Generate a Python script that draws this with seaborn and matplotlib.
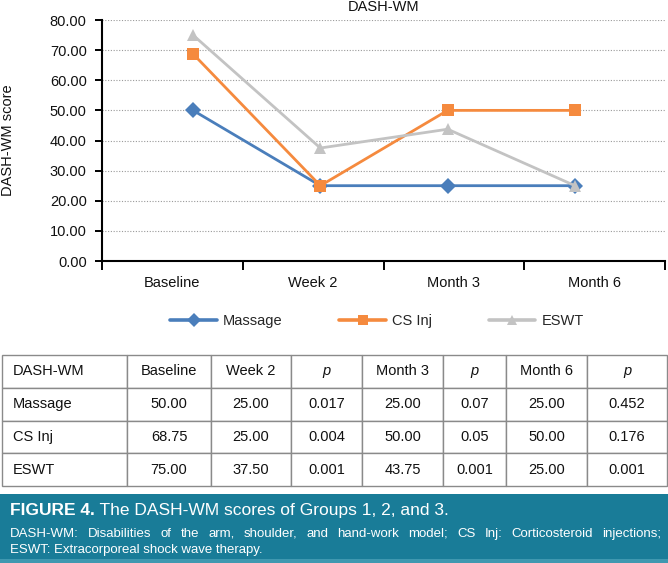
import numpy as np
import pandas as pd
import matplotlib
matplotlib.use("Agg")
import matplotlib.pyplot as plt
import seaborn as sns
from matplotlib.patches import Rectangle

# ---------------- data ----------------
time_points = ["Baseline", "Week 2", "Month 3", "Month 6"]
groups = ["Massage", "CS Inj", "ESWT"]
massage = [50.00, 25.00, 25.00, 25.00]
cs_inj = [68.75, 25.00, 50.00, 50.00]
eswt = [75.00, 37.50, 43.75, 25.00]
p_week2 = ["0.017", "0.004", "0.001"]
p_month3 = ["0.07", "0.05", "0.001"]
p_month6 = ["0.452", "0.176", "0.001"]
table_header = ["DASH-WM", "Baseline", "Week 2", "p", "Month 3", "p", "Month 6", "p"]
y_ticks = [0, 10, 20, 30, 40, 50, 60, 70, 80]
chart_title = "DASH-WM"
y_label = "DASH-WM score"
caption_bold = "FIGURE 4."
caption_title = " The DASH-WM scores of Groups 1, 2, and 3."
caption_line2 = ("DASH-WM: Disabilities of the arm, shoulder, and hand-work model; "
                 "CS Inj: Corticosteroid injections;")
caption_line3 = "ESWT: Extracorporeal shock wave therapy."

colors = {"Massage": "#4a7ebb", "CS Inj": "#f58a3e", "ESWT": "#c3c3c3"}
markers = {"Massage": "D", "CS Inj": "s", "ESWT": "^"}

series = {"Massage": massage, "CS Inj": cs_inj, "ESWT": eswt}
df = pd.DataFrame([(t, g, v) for g in groups for t, v in zip(time_points, series[g])],
                  columns=["Time", "Group", "Score"])

# ---------------- style ----------------
sns.set_theme(style="white")
plt.rcParams["font.family"] = ["Liberation Sans", "DejaVu Sans"]

W, H = 668, 563
fig = plt.figure(figsize=(W / 100, H / 100), dpi=100)

def fx(px):
    return px / W

def fy(py):
    return 1 - py / H

# ---------------- chart ----------------
ax = fig.add_axes([fx(102), fy(261), fx(665) - fx(102), fy(20) - fy(261)])
sns.lineplot(data=df, x="Time", y="Score", hue="Group", style="Group",
             palette=colors, markers=markers, dashes=False, sort=False,
             linewidth=2.0, markersize=8, markeredgewidth=0, ax=ax)

xmin, xmax = -0.715, 3.707
ax.set_xlim(xmin, xmax)
ax.set_ylim(0, 80)
ax.set_yticks(y_ticks)
ax.set_yticklabels([f"{v:.2f}" for v in y_ticks], fontsize=10.5, color="#111111")
ax.yaxis.grid(True, color="#9a9a9a", linestyle=(0, (1, 1.5)), linewidth=0.8)
ax.set_axisbelow(True)

bounds = np.linspace(xmin, xmax, len(time_points) + 1)
centers = (bounds[:-1] + bounds[1:]) / 2
ax.set_xticks(bounds)
ax.set_xticklabels([""] * len(bounds))
ax.set_xticks(centers, minor=True)
ax.set_xticklabels(time_points, minor=True, fontsize=10.5, color="#111111")
ax.tick_params(axis="x", which="major", direction="out", length=6.5, width=1.4,
               color="black", bottom=True)
ax.tick_params(axis="x", which="minor", length=0, pad=11)
ax.tick_params(axis="y", direction="out", length=5, width=1.4, color="black",
               left=True, pad=6)
for s in ["top", "right"]:
    ax.spines[s].set_visible(False)
for s in ["left", "bottom"]:
    ax.spines[s].set_color("black")
    ax.spines[s].set_linewidth(1.5)
ax.spines["left"].set_bounds(0, 80)
ax.set_xlabel("")
ax.set_ylabel("")

handles, labels = ax.get_legend_handles_labels()
if ax.get_legend() is not None:
    ax.get_legend().remove()
leg = fig.legend(handles, labels, loc="center", bbox_to_anchor=(fx(377), fy(321)),
                 ncol=3, frameon=False, fontsize=10.5, handlelength=3.2,
                 handletextpad=0.4, columnspacing=3.9)
for h in leg.legend_handles:
    h.set_linewidth(2.6)
    h.set_markersize(7.5)
    h.set_markeredgewidth(0)

fig.text(fx(383.5), fy(7), chart_title, ha="center", va="center", fontsize=10.5,
         color="#111111")
fig.text(fx(8), fy(140), y_label, ha="center", va="center", rotation=90,
         fontsize=10.5, color="#111111")

# ---------------- table ----------------
tax = fig.add_axes([fx(2), fy(486), fx(667) - fx(2), fy(355) - fy(486)])
tax.axis("off")
rows = []
for i, g in enumerate(groups):
    v = series[g]
    rows.append([g, f"{v[0]:.2f}", f"{v[1]:.2f}", p_week2[i], f"{v[2]:.2f}",
                 p_month3[i], f"{v[3]:.2f}", p_month6[i]])
col_px = [125, 84, 80, 71, 81, 63, 81, 80]
col_w = [c / sum(col_px) for c in col_px]
tbl = tax.table(cellText=rows, colLabels=table_header, colWidths=col_w,
                bbox=[0, 0, 1, 1], cellLoc="center")
tbl.auto_set_font_size(False)
for (r, c), cell in tbl.get_celld().items():
    cell.set_edgecolor("#8a8a8a")
    cell.set_linewidth(1.0)
    cell.set_facecolor("white")
    t = cell.get_text()
    t.set_fontsize(10.5)
    t.set_color("#111111")
    if c == 0:
        t.set_ha("left")
        cell.PAD = 0.09
    if r == 0 and table_header[c] == "p":
        t.set_fontstyle("italic")

# ---------------- caption box ----------------
fig.patches.append(Rectangle((0, 0), 1, fy(494), transform=fig.transFigure,
                             facecolor="#197c98", edgecolor="none", zorder=0))
fig.patches.append(Rectangle((0, 0), 1, fy(559), transform=fig.transFigure,
                             facecolor="#3f98b0", edgecolor="none", zorder=0))
t1 = fig.text(fx(10), fy(515), caption_bold, ha="left", va="baseline", fontsize=12.5,
              fontweight="bold", color="white")
fig.canvas.draw()
bb = t1.get_window_extent()
fig.text(bb.x1 / W, fy(515), caption_title, ha="left", va="baseline", fontsize=12.5,
         color="white")

# justified second line
words = caption_line2.split(" ")
renderer = fig.canvas.get_renderer()
wtexts = [fig.text(0, fy(537), w, ha="left", va="baseline", fontsize=9.5, color="white")
          for w in words]
widths = [t.get_window_extent(renderer).width for t in wtexts]
x0, x1 = 10, 661
gap = (x1 - x0 - sum(widths)) / (len(words) - 1)
x = x0
for t, w in zip(wtexts, widths):
    t.set_x(x / W)
    x += w + gap
fig.text(fx(10), fy(553), caption_line3, ha="left", va="baseline", fontsize=9.5,
         color="white")

fig.savefig("out.png", dpi=100)
